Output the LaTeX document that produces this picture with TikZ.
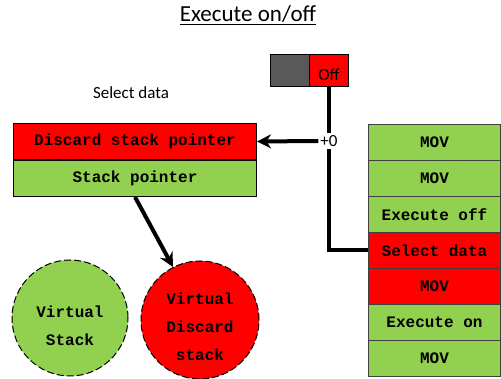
\documentclass[tikz,border=0pt]{standalone}
\usepackage{fontspec}
\setmainfont{Carlito}
\setmonofont{Liberation Mono}
\usetikzlibrary{positioning,arrows.meta}
\definecolor{cellgreen}{HTML}{92D050}
\definecolor{cellred}{HTML}{FF0000}
\definecolor{knob}{HTML}{595959}
\definecolor{rim}{HTML}{404040}
\tikzset{
  cell/.style={draw=#1,line width=1pt,minimum width=132pt,minimum height=36pt,inner sep=0pt,
    font=\ttfamily\bfseries\fontsize{16}{18}\selectfont},
  pointer/.style={draw=black,line width=1pt,minimum width=243pt,minimum height=36pt,inner sep=0pt,
    font=\ttfamily\bfseries\fontsize{16}{18}\selectfont},
  stackcircle/.style={circle,draw=black,dash pattern=on 7pt off 3pt,line width=1pt,inner sep=0pt},
  stacktext/.style={align=center,font=\ttfamily\bfseries\fontsize{16}{28}\selectfont},
  wire/.style={line width=4pt},
  arrowline/.style={wire,-{Stealth[length=14pt,width=14pt]}}
}
\begin{document}
\begin{tikzpicture}[x=1pt,y=-1pt,font=\fontsize{17}{20}\selectfont]
  \useasboundingbox (0,0) rectangle (501,379);
  % title and caption
  \node (title) at (248,15) {\fontsize{23}{26}\selectfont\underline{Execute on/off}};
  \node (caption) at (131,93) {Select data};
  % on/off switch
  \node[draw=black,fill=knob,minimum width=39pt,minimum height=32pt,inner sep=0pt,anchor=north west] (knob) at (270,54) {};
  \node[draw=black,fill=cellred,minimum width=39pt,minimum height=32pt,inner sep=0pt,anchor=north west] (swoff) at (309,54) {};
  \node[inner sep=0pt] (offtxt) at (329,75) {Off};
  % instruction stack
  \foreach \i/\lab/\c in {1/MOV/cellgreen, 2/MOV/cellgreen, 3/Execute off/cellgreen, 4/Select data/cellred,
      5/MOV/cellred, 6/Execute on/cellgreen, 7/MOV/cellgreen}{
    \node[cell=rim,fill=\c,anchor=north west] (r\i) at (368,124+36*\i-36) {\lab};
  }
  % pointers
  \node[pointer,fill=cellred,anchor=north west] (dsp) at (13,123) {Discard stack pointer};
  \node[pointer,fill=cellgreen,anchor=north] (sp) at (dsp.south) {Stack pointer};
  % stacks
  \node[stackcircle,fill=cellgreen,minimum size=116pt] (vs) at (70,318) {};
  \node[stacktext] (vstxt) at (70,326) {Virtual\\Stack};
  \node[stackcircle,fill=cellred,minimum size=118pt] (vds) at (200,320) {};
  \node[stacktext] (vdstxt) at (200,327) {Virtual\\Discard\\stack};
  % connectors
  \draw[wire] (swoff.south) |- (r4.west);
  \node[fill=white,inner sep=2pt] (offset) at (329,141) {+0};
  \draw[arrowline] (offset.west) -- (dsp.east);
  \draw[arrowline] (sp.south) -- (vds.117);
\end{tikzpicture}
\end{document}
